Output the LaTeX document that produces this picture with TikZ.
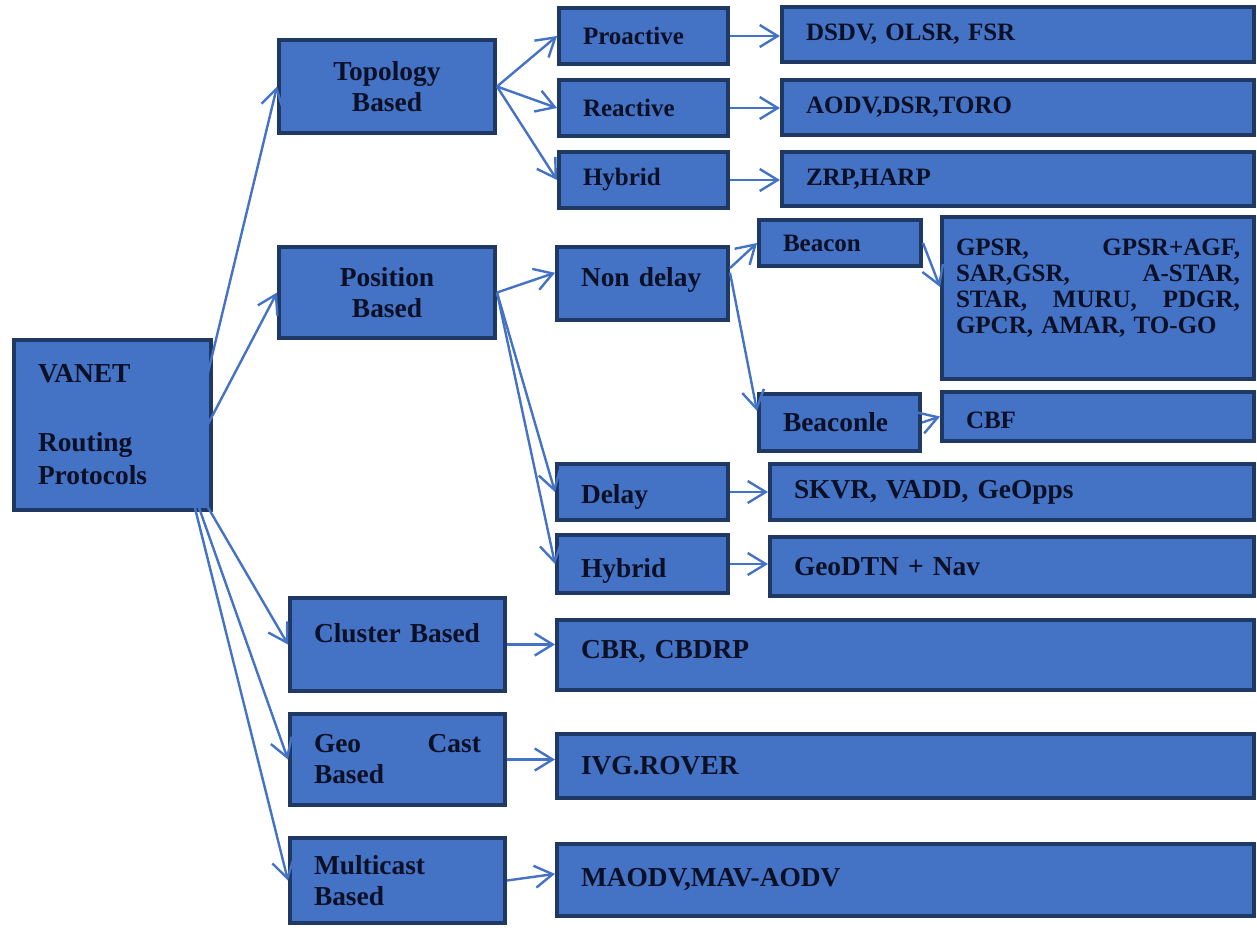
\documentclass[tikz,border=0pt]{standalone}
\usepackage{fontspec}
\setmainfont{Liberation Serif}
\usetikzlibrary{arrows.meta}
\definecolor{boxblue}{HTML}{4472C4}
\definecolor{boxedge}{HTML}{203864}
\definecolor{inkdark}{HTML}{0B1026}
\tikzset{
  pbox/.style={draw=boxedge,fill=boxblue,line width=2pt,inner xsep=12pt,inner ysep=0pt,text=inkdark,align=left},
  bigbox/.style={pbox,font=\bfseries\fontsize{13.7}{15.5}\selectfont},
  headbox/.style={bigbox,align=center},
  smallbox/.style={pbox,font=\bfseries\fontsize{12.5}{14}\selectfont},
  gpsrbox/.style={smallbox,font=\bfseries\fontsize{12.5}{12.9}\selectfont,text width=142pt,inner xsep=7pt,text depth=50.5pt},
  % small shifts of the text inside some boxes
  clusbox/.style={bigbox,text depth=12pt},
  nondbox/.style={bigbox,text depth=7pt},
  cbfbox/.style={smallbox,text height=12pt},
  delaybox/.style={bigbox,text height=14.5pt},
  hybbbox/.style={bigbox,text height=16.5pt},
  cbrbox/.style={bigbox,text depth=6pt},
  link/.style={boxblue,line width=1.2pt,-{Straight Barb[length=9pt,width=11pt]}}
}
\begin{document}
\begin{tikzpicture}[x=0.5pt,y=-0.5pt]
  \useasboundingbox (0,0) rectangle (1257,933);
  % boxes: name/left/top/right/bottom/style/text
  \foreach \nm/\xa/\ya/\xb/\yb/\st/\tx in {
    vanet/12/338/213/512/bigbox/{VANET\\[19pt]Routing\\[1pt]Protocols},
    topo/277/38/497/135/headbox/{Topology\\Based},
    pos/277/245/497/340/headbox/{Position\\Based},
    clus/288/596/507/693/clusbox/{Cluster Based},
    geo/288/712/507/807/bigbox/{Geo\hfill Cast\\Based},
    mult/288/836/507/925/bigbox/{Multicast\\Based},
    pro/557/6/730/66/smallbox/Proactive,
    rea/557/78/730/138/smallbox/Reactive,
    hyb/557/150/730/210/smallbox/Hybrid,
    dsdv/780/5/1256/64/smallbox/{DSDV, OLSR, FSR},
    dsr/780/78/1256/137/smallbox/{AODV,DSR,TORO},
    zrp/780/150/1256/208/smallbox/{ZRP,HARP},
    nond/555/245/730/322/nondbox/{Non delay},
    beacon/757/218/923/268/smallbox/Beacon,
    gpsr/940/215/1256/381/gpsrbox/{GPSR,\hfill GPSR+AGF,\\SAR,GSR,\hfill A-STAR,\\STAR,\hfill MURU,\hfill PDGR,\\GPCR, AMAR, TO-GO},
    beaconle/757/392/922/453/bigbox/Beaconle,
    cbf/940/390/1256/443/cbfbox/CBF,
    delay/555/462/730/522/delaybox/Delay,
    skvr/768/462/1256/522/bigbox/{SKVR, VADD, GeOpps},
    hybb/555/533/730/595/hybbbox/Hybrid,
    geodtn/768/535/1256/598/bigbox/{GeoDTN + Nav},
    cbr/555/618/1256/692/cbrbox/{CBR, CBDRP},
    ivg/555/732/1256/800/bigbox/{IVG.ROVER},
    maodv/555/842/1256/918/bigbox/{MAODV,MAV-AODV}
  }{
    \pgfmathsetlengthmacro\tw{(\xb-\xa)*0.5pt-26pt}
    \node[minimum width={(\xb-\xa)*0.5pt-2pt},minimum height={(\yb-\ya)*0.5pt-2pt},text width=\tw,\st]
      (\nm) at ({(\xa+\xb)/2},{(\ya+\yb)/2}) {\tx};
  }
  % connectors
  \coordinate (vroot) at (185,468);
  \foreach \m in {topo,pos,clus,geo,mult} \draw[link] (vroot) -- (\m.west);
  \foreach \m in {pro,rea,hyb} \draw[link] (topo.east) -- (\m.west);
  \draw[link] (pos.east) -- (nond.173);
  \foreach \m in {delay,hybb} \draw[link] (pos.east) -- (\m.west);
  \draw[link] (nond.10) -- (beacon.west);
  \draw[link] (nond.7) -- (beaconle.172);
  \draw[link] (beacon.east) -- (gpsr.176);
  \draw[link] (beaconle.east) -- (cbf.west);
  \foreach \a/\b in {pro/dsdv,rea/dsr,hyb/zrp,delay/skvr,hybb/geodtn,clus/cbr,geo/ivg}
    \draw[link] (\a.east) -- (\a.east -| \b.west);
  \draw[link] (mult.east) -- (maodv.179);
\end{tikzpicture}
\end{document}
